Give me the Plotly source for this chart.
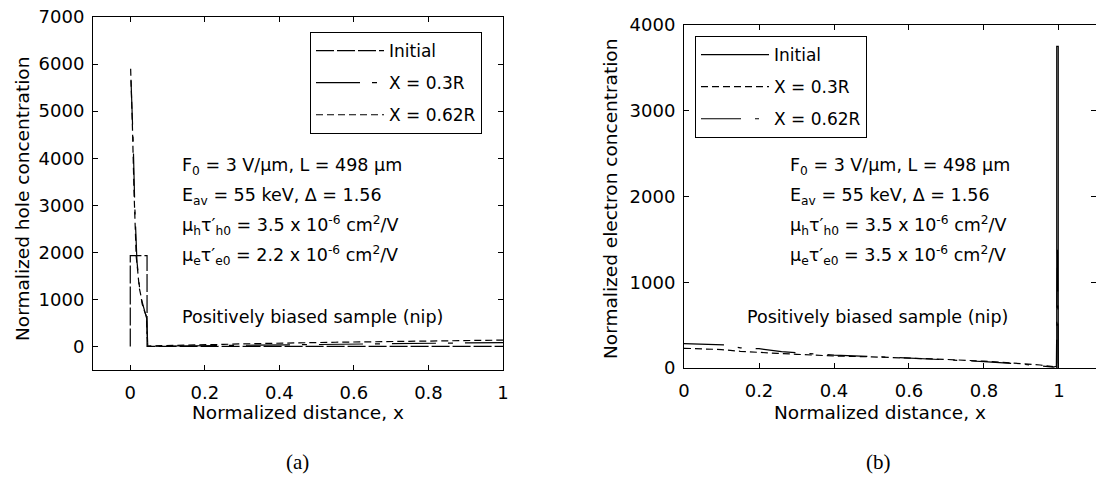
import plotly.graph_objects as go

W, H = 1096, 481

# ---------------- data: panel (a) holes ----------------
a_init_x = [0.0, 0.0, 0.045, 0.045, 1.0]
a_init_y = [0, 1930, 1930, 0, 0]

a_03_x = [0.002, 0.004, 0.008, 0.012, 0.015, 0.018, 0.022, 0.026, 0.030, 0.035, 0.040, 0.044, 0.047,
          0.10, 0.15, 0.20, 0.25, 0.30, 0.35, 0.40, 0.45, 0.50, 0.55, 0.60, 0.70, 0.80, 0.90, 1.0]
a_03_y = [5650, 5300, 4300, 3000, 2100, 1800, 1500, 1150, 1000, 850, 700, 600, 5,
          5, 10, 15, 20, 25, 30, 35, 40, 45, 50, 55, 60, 70, 75, 80]

a_062_x = [0.001, 0.003, 0.006, 0.010, 0.013, 0.016, 0.020, 0.024, 0.028, 0.032, 0.038, 0.043, 0.047,
           0.10, 0.15, 0.20, 0.25, 0.30, 0.35, 0.40, 0.45, 0.50, 0.55, 0.60, 0.70, 0.80, 0.90, 1.0]
a_062_y = [5900, 5500, 4600, 3300, 2300, 1900, 1600, 1250, 1100, 900, 750, 650, 10,
           15, 25, 35, 45, 55, 65, 70, 80, 85, 90, 95, 105, 115, 125, 135]

# ---------------- data: panel (b) electrons ----------------
b_init_x = [0.994, 0.994, 0.998, 0.998]
b_init_y = [0, 3750, 3750, 0]

b_03_x = [0.0, 0.05, 0.10, 0.15, 0.20, 0.25, 0.30, 0.40, 0.50, 0.60, 0.70, 0.80, 0.90, 0.95, 0.985]
b_03_y = [230, 225, 215, 195, 180, 170, 160, 140, 130, 117, 100, 80, 55, 35, 15]

b_062_x = [0.0, 0.05, 0.11, 0.15, 0.20, 0.26, 0.30, 0.40, 0.50, 0.60, 0.70, 0.80, 0.90, 0.95, 0.985,
           0.993, 0.996, 0.998]
b_062_y = [285, 280, 270, 235, 225, 190, 180, 150, 135, 117, 100, 75, 45, 25, 10,
           20, 1450, 0]

xticks_a = [0, 0.2, 0.4, 0.6, 0.8, 1]
xticklabels_a = ["0", "0.2", "0.4", "0.6", "0.8", "1"]
yticks_a = [0, 1000, 2000, 3000, 4000, 5000, 6000, 7000]
xticks_b = [0, 0.2, 0.4, 0.6, 0.8, 1]
xticklabels_b = ["0", "0.2", "0.4", "0.6", "0.8", "1"]
yticks_b = [0, 1000, 2000, 3000, 4000]

FONT = "DejaVu Sans"
FS_TICK = 18
FS_TEXT = 17.5
FS_TITLE = 18.5
FS_LEG = 17

fig = go.Figure()

def add(x, y, name, dash, xa, ya, leg, width=1.2):
    fig.add_trace(go.Scatter(
        x=x, y=y, mode="lines", name=name,
        line=dict(color="black", width=width, dash=dash),
        xaxis=xa, yaxis=ya, legend=leg, legendgroup=leg + name,
    ))

add(a_init_x, a_init_y, "Initial", "18px,3px", "x", "y", "legend")
add(a_03_x, a_03_y, "X = 0.3R", "44px,12px,5px,12px", "x", "y", "legend")
add(a_062_x, a_062_y, "X = 0.62R", "7px,4px", "x", "y", "legend")

add(b_init_x, b_init_y, "Initial", "solid", "x2", "y2", "legend2", width=1.2)
add(b_03_x, b_03_y, "X = 0.3R", "7px,4px", "x2", "y2", "legend2")
add(b_062_x, b_062_y, "X = 0.62R", "40px,14px,4px,14px", "x2", "y2", "legend2")

def px_x(p):
    return p / W

def px_y(p):
    return 1 - p / H

axis_common = dict(
    showline=True, linecolor="black", linewidth=1, mirror="ticks",
    ticks="inside", ticklen=5, tickcolor="black", tickwidth=1,
    showgrid=False, zeroline=False, automargin=False,
    tickfont=dict(family=FONT, size=FS_TICK, color="black"),
)

legend_common = dict(
    xanchor="left", yanchor="top",
    bordercolor="black", borderwidth=1, bgcolor="white",
    font=dict(family=FONT, size=FS_LEG, color="black"),
    itemwidth=68, tracegroupgap=7, traceorder="grouped",
)

fig.update_layout(
    width=W, height=H,
    margin=dict(l=0, r=0, t=0, b=0),
    paper_bgcolor="white", plot_bgcolor="white",
    font=dict(family=FONT, size=FS_TEXT, color="black"),
    xaxis=dict(domain=[px_x(93), px_x(503)], range=[-0.1, 1.0],
               tickvals=xticks_a, ticktext=xticklabels_a, anchor="y",
               ticklabelstandoff=6, **axis_common),
    yaxis=dict(domain=[px_y(370), px_y(17)], range=[-500, 7000],
               tickvals=yticks_a, anchor="x", ticklabelstandoff=4, **axis_common),
    xaxis2=dict(domain=[px_x(684), 1.0], range=[0, 1.0987],
                tickvals=xticks_b, ticktext=xticklabels_b, anchor="y2",
                ticklabelstandoff=6, **axis_common),
    yaxis2=dict(domain=[px_y(368), px_y(25)], range=[0, 4000],
                tickvals=yticks_b, anchor="x2", ticklabelstandoff=4, **axis_common),
    legend=dict(x=px_x(310), y=px_y(32), **legend_common),
    legend2=dict(x=px_x(695), y=px_y(36), **legend_common),
    showlegend=True,
)

ann = []

def text(x, y, s, size=FS_TEXT, family=FONT, xanchor="left", angle=0):
    ann.append(dict(xref="paper", yref="paper", x=px_x(x), y=px_y(y), text=s,
                    showarrow=False, xanchor=xanchor, yanchor="middle",
                    textangle=angle, font=dict(family=family, size=size, color="black")))

lines_a = [
    "F<sub>0</sub> = 3 V/μm, L = 498 μm",
    "E<sub>av</sub> = 55 keV, Δ = 1.56",
    "μ<sub>h</sub>τ′<sub>h0</sub> = 3.5 x 10<sup>-6</sup> cm<sup>2</sup>/V",
    "μ<sub>e</sub>τ′<sub>e0</sub> = 2.2 x 10<sup>-6</sup> cm<sup>2</sup>/V",
]
lines_b = [
    "F<sub>0</sub> = 3 V/μm, L = 498 μm",
    "E<sub>av</sub> = 55 keV, Δ = 1.56",
    "μ<sub>h</sub>τ′<sub>h0</sub> = 3.5 x 10<sup>-6</sup> cm<sup>2</sup>/V",
    "μ<sub>e</sub>τ′<sub>e0</sub> = 3.5 x 10<sup>-6</sup> cm<sup>2</sup>/V",
]
ys = [166, 196, 225, 255]
for s, yy in zip(lines_a, ys):
    text(180, yy, s)
for s, yy in zip(lines_b, ys):
    text(788, yy, s)
text(180, 317, "Positively biased sample (nip)")
text(745, 317, "Positively biased sample (nip)")

text(22, 199, "Normalized hole concentration", size=FS_TITLE, angle=-90, xanchor="center")
text(610, 199, "Normalized electron concentration", size=FS_TITLE, angle=-90, xanchor="center")
text(298, 412, "Normalized distance, x", size=FS_TITLE, xanchor="center")
text(880, 412, "Normalized distance, x", size=FS_TITLE, xanchor="center")
text(298, 462, "(a)", size=21, family="Liberation Serif", xanchor="center")
text(878, 462, "(b)", size=21, family="Liberation Serif", xanchor="center")

fig.update_layout(annotations=ann)
fig.write_html("out.html")
